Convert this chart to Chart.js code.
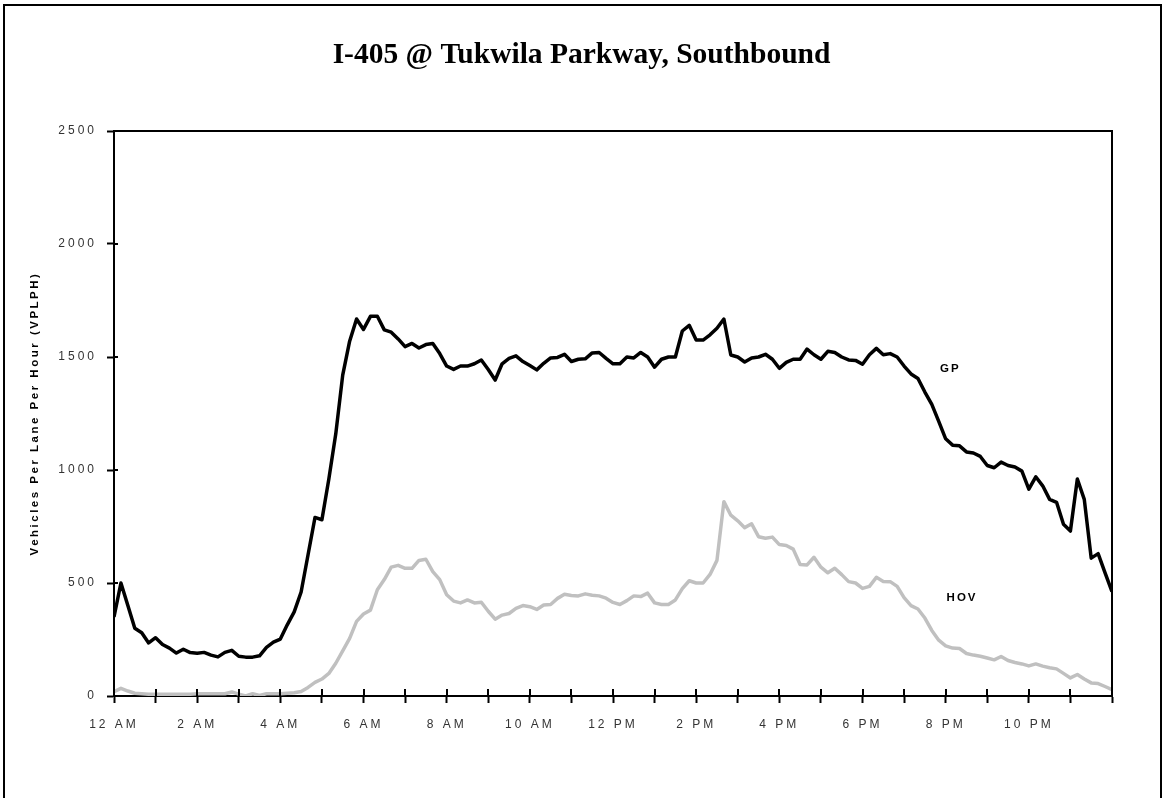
<!DOCTYPE html>
<html>
<head>
<meta charset="utf-8">
<script src="https://cdn.jsdelivr.net/npm/chart.js@4.4.0/dist/chart.umd.min.js"></script>
<style>
  html, body { margin: 0; padding: 0; background: #fff; }
  canvas { display: block; }
</style>
</head>
<body>
<canvas id="myChart" width="1163" height="798"></canvas>
<script>
const chartTitle = "I-405 @ Tukwila Parkway, Southbound";
const yTitle = "Vehicles Per Lane Per Hour (VPLPH)";

// one reading every 10 minutes, midnight to midnight
const minutes = Array.from({ length: 145 }, (_, i) => i * 10);

const gp = [
  350, 500, 400, 300, 280, 235, 258, 228, 212, 190, 207, 192,
  189, 193, 181, 173, 193, 202, 176, 172, 172, 178, 215, 238,
  252, 315, 372, 460, 625, 790, 780, 960, 1160, 1420, 1570, 1668,
  1622, 1680, 1680, 1620, 1610, 1580, 1546, 1560, 1540, 1555, 1560, 1515,
  1460, 1445, 1460, 1460, 1470, 1487, 1445, 1398, 1470, 1494, 1505, 1480,
  1462, 1443, 1472, 1496, 1498, 1512, 1480, 1490, 1492, 1518, 1520, 1494,
  1470, 1470, 1500, 1496, 1520, 1500, 1455, 1490, 1500, 1500, 1615, 1640,
  1575, 1575, 1598, 1627, 1668, 1509, 1500, 1478, 1496, 1500, 1512, 1490,
  1450, 1476, 1490, 1490, 1535, 1510, 1490, 1525, 1520, 1500, 1487, 1485,
  1468, 1510, 1538, 1510, 1515, 1500, 1460, 1425, 1405, 1345, 1290, 1215,
  1138, 1110, 1107, 1080, 1075, 1060, 1020, 1010, 1035, 1020, 1013, 995,
  915, 970, 930, 870, 857, 760, 730, 960, 870, 610, 630, 545,
  462
];

const hov = [
  19, 34, 22, 12, 10, 8, 8, 8, 8, 8, 8, 8,
  10, 10, 10, 10, 10, 18, 8, 0, 10, 2, 10, 10,
  10, 12, 14, 20, 38, 60, 75, 100, 145, 200, 255, 330,
  363, 380, 470, 515, 570, 578, 565, 565, 600, 605, 550, 515,
  448, 420, 412, 425, 412, 415, 375, 340, 358, 365, 388, 400,
  395, 383, 403, 405, 432, 450, 445, 443, 452, 446, 443, 433,
  414, 405, 422, 443, 440, 455, 412, 405, 405, 425, 475, 510,
  500, 500, 538, 600, 860, 800, 775, 745, 762, 705, 698, 703,
  670, 666, 650, 582, 580, 614, 570, 545, 565, 537, 506, 500,
  476, 485, 525, 507, 506, 485, 435, 400, 385, 345, 290, 247,
  222, 212, 210, 188, 181, 176, 168, 160, 175, 157, 148, 142,
  133, 142, 132, 125, 120, 100, 80, 95, 75, 58, 55, 42,
  28
];

const hourLabels = [
  "12 AM", "", "2 AM", "", "4 AM", "", "6 AM", "", "8 AM", "", "10 AM", "",
  "12 PM", "", "2 PM", "", "4 PM", "", "6 PM", "", "8 PM", "", "10 PM", "", ""
];

const seriesNames = ["GP", "HOV"];
// where the series names sit: [hour, vehicles]
const nameSpots = [[20.09, 1447], [20.37, 434]];

const sansFamily = '"Liberation Sans", Arial, sans-serif';

const decorations = {
  id: "decorations",
  beforeDraw(chart) {
    const c = chart.ctx;
    c.save();
    c.fillStyle = "#fff";
    c.fillRect(0, 0, chart.width, chart.height);
    c.restore();
    c.letterSpacing = "2.5px"; // axis title
  },
  afterDatasetsDraw(chart) {
    chart.ctx.letterSpacing = "3px"; // tick labels (drawn on z 1)
  },
  afterDraw(chart) {
    const c = chart.ctx;
    const a = chart.chartArea;
    const xs = chart.scales.x;
    const ys = chart.scales.y;
    c.save();
    c.letterSpacing = "0px";
    c.strokeStyle = "#000";
    c.lineWidth = 2;
    // outer frame
    c.strokeRect(4, 5, 1157, 900);
    // top and right sides of the plot
    c.beginPath();
    c.moveTo(a.left, a.top);
    c.lineTo(a.right, a.top);
    c.lineTo(a.right, a.bottom);
    c.stroke();
    // inner halves of the tick marks
    c.beginPath();
    xs.ticks.forEach(t => {
      const px = Math.round(xs.getPixelForValue(t.value));
      c.moveTo(px, a.bottom);
      c.lineTo(px, a.bottom - 7);
    });
    ys.ticks.forEach(t => {
      const py = Math.round(ys.getPixelForValue(t.value));
      c.moveTo(a.left, py);
      c.lineTo(a.left + 4, py);
    });
    c.stroke();

    c.fillStyle = "#000";
    c.textAlign = "center";
    c.textBaseline = "alphabetic";
    c.font = 'bold 29.5px "Liberation Serif", "Times New Roman", serif';
    c.fillText(chartTitle, chart.width / 2, 63);

    c.font = "bold 11.5px " + sansFamily;
    c.letterSpacing = "2px";
    c.textBaseline = "middle";
    seriesNames.forEach((name, i) => {
      const [h, v] = nameSpots[i];
      c.fillText(name, xs.getPixelForValue(h) + 1, ys.getPixelForValue(v));
    });
    c.restore();
  }
};

const ctx = document.getElementById("myChart").getContext("2d");
const myChart = new Chart(ctx, {
  type: "line",
  data: {
    datasets: [
      {
        label: seriesNames[0],
        data: minutes.map((m, i) => ({ x: m / 60, y: gp[i] })),
        borderColor: "#000",
        borderWidth: 3.5,
        borderJoinStyle: "round",
        pointRadius: 0,
        tension: 0,
        fill: false,
      },
      {
        label: seriesNames[1],
        data: minutes.map((m, i) => ({ x: m / 60, y: hov[i] })),
        borderColor: "#c0c0c0",
        borderWidth: 3.5,
        borderJoinStyle: "round",
        pointRadius: 0,
        tension: 0,
        fill: false,
      },
    ],
  },
  options: {
    responsive: false,
    animation: false,
    devicePixelRatio: 1,
    layout: { padding: { left: 0, top: 131, right: 51, bottom: 0 } },
    plugins: {
      legend: { display: false },
      tooltip: { enabled: false },
      title: { display: false },
    },
    scales: {
      x: {
        type: "linear",
        min: 0,
        max: 24,
        afterFit(s) { s.height = 102; },
        border: { display: true, color: "#000", width: 2 },
        grid: { drawOnChartArea: false, drawTicks: true, tickLength: 7, tickColor: "#000", tickWidth: 2 },
        ticks: {
          z: 1,
          stepSize: 1,
          maxTicksLimit: 30,
          autoSkip: false,
          maxRotation: 0,
          padding: 14,
          color: "#333",
          font: { family: sansFamily, size: 12 },
          callback: v => hourLabels[v] ?? "",
        },
      },
      y: {
        min: 0,
        max: 2500,
        afterFit(s) { s.width = 114; },
        border: { display: true, color: "#000", width: 2 },
        grid: { drawOnChartArea: false, drawTicks: true, tickLength: 7, tickColor: "#000", tickWidth: 2 },
        ticks: {
          z: 1,
          stepSize: 500,
          padding: 10,
          color: "#333",
          font: { family: sansFamily, size: 12 },
          callback: v => String(v),
        },
        title: {
          display: true,
          text: yTitle,
          color: "#000",
          font: { family: sansFamily, size: 11.5, weight: "bold" },
          padding: { top: 28, bottom: 0 },
        },
      },
    },
  },
  plugins: [decorations],
});
</script>
</body>
</html>
